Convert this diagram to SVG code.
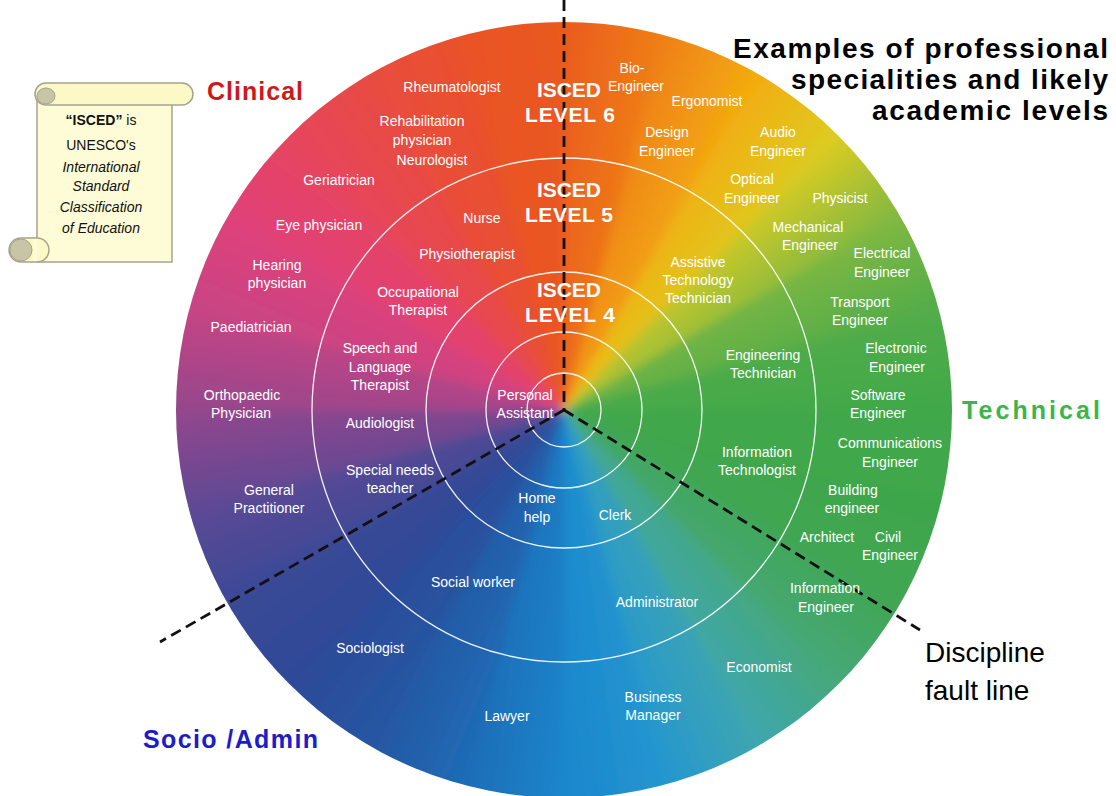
<svg xmlns="http://www.w3.org/2000/svg" width="1116" height="796" viewBox="0 0 1116 796">
<style>
.lbl{font-family:"Liberation Sans",Arial,sans-serif;font-size:14px;fill:#fff;text-anchor:middle}
.isc{font-family:"Liberation Sans",Arial,sans-serif;font-weight:bold;font-size:21px;fill:#fff}
.ring{fill:none;stroke:#fff;stroke-width:1.3;opacity:0.92}
.fault{fill:none;stroke:#111;stroke-width:2.8;stroke-dasharray:11 6}
.ttl{font-family:"Liberation Sans",Arial,sans-serif;font-weight:bold;font-size:28px;fill:#000}
.big{font-family:"Liberation Sans",Arial,sans-serif;font-weight:bold;font-size:25px}
.scr{font-family:"Liberation Sans",Arial,sans-serif;font-size:14px;fill:#111;text-anchor:middle}
</style>
<defs>
<clipPath id="disc"><circle cx="564" cy="410" r="388"/></clipPath>
<filter id="soft" filterUnits="userSpaceOnUse" x="100" y="-40" width="930" height="900"><feGaussianBlur stdDeviation="5"/></filter>
<path id="w" d="M564 410 L507.7 -6.2 L620.3 -6.2 Z"/>
<linearGradient id="g0" gradientUnits="userSpaceOnUse" x1="513.4" y1="0" x2="614.6" y2="0"><stop offset="0" stop-color="#ea5a1e"/><stop offset="1" stop-color="#ef8016"/></linearGradient>
<linearGradient id="g1" gradientUnits="userSpaceOnUse" x1="513.4" y1="0" x2="614.6" y2="0"><stop offset="0" stop-color="#ef8016"/><stop offset="1" stop-color="#f3ac10"/></linearGradient>
<linearGradient id="g2" gradientUnits="userSpaceOnUse" x1="513.4" y1="0" x2="614.6" y2="0"><stop offset="0" stop-color="#f3ac10"/><stop offset="1" stop-color="#dccc22"/></linearGradient>
<linearGradient id="g3" gradientUnits="userSpaceOnUse" x1="513.4" y1="0" x2="614.6" y2="0"><stop offset="0" stop-color="#dccc22"/><stop offset="1" stop-color="#80b842"/></linearGradient>
<linearGradient id="g4" gradientUnits="userSpaceOnUse" x1="513.4" y1="0" x2="614.6" y2="0"><stop offset="0" stop-color="#80b842"/><stop offset="1" stop-color="#52ac48"/></linearGradient>
<linearGradient id="g5" gradientUnits="userSpaceOnUse" x1="513.4" y1="0" x2="614.6" y2="0"><stop offset="0" stop-color="#52ac48"/><stop offset="1" stop-color="#40a84a"/></linearGradient>
<linearGradient id="g6" gradientUnits="userSpaceOnUse" x1="513.4" y1="0" x2="614.6" y2="0"><stop offset="0" stop-color="#40a84a"/><stop offset="1" stop-color="#3ea64c"/></linearGradient>
<linearGradient id="g7" gradientUnits="userSpaceOnUse" x1="513.4" y1="0" x2="614.6" y2="0"><stop offset="0" stop-color="#3ea64c"/><stop offset="1" stop-color="#40a652"/></linearGradient>
<linearGradient id="g8" gradientUnits="userSpaceOnUse" x1="513.4" y1="0" x2="614.6" y2="0"><stop offset="0" stop-color="#40a652"/><stop offset="1" stop-color="#46a87a"/></linearGradient>
<linearGradient id="g9" gradientUnits="userSpaceOnUse" x1="513.4" y1="0" x2="614.6" y2="0"><stop offset="0" stop-color="#46a87a"/><stop offset="1" stop-color="#3ea6b0"/></linearGradient>
<linearGradient id="g10" gradientUnits="userSpaceOnUse" x1="513.4" y1="0" x2="614.6" y2="0"><stop offset="0" stop-color="#3ea6b0"/><stop offset="1" stop-color="#2496d0"/></linearGradient>
<linearGradient id="g11" gradientUnits="userSpaceOnUse" x1="513.4" y1="0" x2="614.6" y2="0"><stop offset="0" stop-color="#2496d0"/><stop offset="1" stop-color="#1a86cc"/></linearGradient>
<linearGradient id="g12" gradientUnits="userSpaceOnUse" x1="513.4" y1="0" x2="614.6" y2="0"><stop offset="0" stop-color="#1a86cc"/><stop offset="1" stop-color="#1e6cb6"/></linearGradient>
<linearGradient id="g13" gradientUnits="userSpaceOnUse" x1="513.4" y1="0" x2="614.6" y2="0"><stop offset="0" stop-color="#1e6cb6"/><stop offset="1" stop-color="#2656a2"/></linearGradient>
<linearGradient id="g14" gradientUnits="userSpaceOnUse" x1="513.4" y1="0" x2="614.6" y2="0"><stop offset="0" stop-color="#2656a2"/><stop offset="1" stop-color="#2e4a98"/></linearGradient>
<linearGradient id="g15" gradientUnits="userSpaceOnUse" x1="513.4" y1="0" x2="614.6" y2="0"><stop offset="0" stop-color="#2e4a98"/><stop offset="1" stop-color="#3a4896"/></linearGradient>
<linearGradient id="g16" gradientUnits="userSpaceOnUse" x1="513.4" y1="0" x2="614.6" y2="0"><stop offset="0" stop-color="#3a4896"/><stop offset="1" stop-color="#5e4894"/></linearGradient>
<linearGradient id="g17" gradientUnits="userSpaceOnUse" x1="513.4" y1="0" x2="614.6" y2="0"><stop offset="0" stop-color="#5e4894"/><stop offset="1" stop-color="#94468c"/></linearGradient>
<linearGradient id="g18" gradientUnits="userSpaceOnUse" x1="513.4" y1="0" x2="614.6" y2="0"><stop offset="0" stop-color="#94468c"/><stop offset="1" stop-color="#c64484"/></linearGradient>
<linearGradient id="g19" gradientUnits="userSpaceOnUse" x1="513.4" y1="0" x2="614.6" y2="0"><stop offset="0" stop-color="#c64484"/><stop offset="1" stop-color="#e0427a"/></linearGradient>
<linearGradient id="g20" gradientUnits="userSpaceOnUse" x1="513.4" y1="0" x2="614.6" y2="0"><stop offset="0" stop-color="#e0427a"/><stop offset="1" stop-color="#e6445e"/></linearGradient>
<linearGradient id="g21" gradientUnits="userSpaceOnUse" x1="513.4" y1="0" x2="614.6" y2="0"><stop offset="0" stop-color="#e6445e"/><stop offset="1" stop-color="#e84c40"/></linearGradient>
<linearGradient id="g22" gradientUnits="userSpaceOnUse" x1="513.4" y1="0" x2="614.6" y2="0"><stop offset="0" stop-color="#e84c40"/><stop offset="1" stop-color="#e95228"/></linearGradient>
<linearGradient id="g23" gradientUnits="userSpaceOnUse" x1="513.4" y1="0" x2="614.6" y2="0"><stop offset="0" stop-color="#e95228"/><stop offset="1" stop-color="#ea5a1e"/></linearGradient>
</defs>
<rect width="1116" height="796" fill="#fff"/>
<g id="wheel" clip-path="url(#disc)">
<g filter="url(#soft)">
<use href="#w" transform="rotate(7.5 564 410)" fill="url(#g0)"/>
<use href="#w" transform="rotate(22.5 564 410)" fill="url(#g1)"/>
<use href="#w" transform="rotate(37.5 564 410)" fill="url(#g2)"/>
<use href="#w" transform="rotate(52.5 564 410)" fill="url(#g3)"/>
<use href="#w" transform="rotate(67.5 564 410)" fill="url(#g4)"/>
<use href="#w" transform="rotate(82.5 564 410)" fill="url(#g5)"/>
<use href="#w" transform="rotate(97.5 564 410)" fill="url(#g6)"/>
<use href="#w" transform="rotate(112.5 564 410)" fill="url(#g7)"/>
<use href="#w" transform="rotate(127.5 564 410)" fill="url(#g8)"/>
<use href="#w" transform="rotate(142.5 564 410)" fill="url(#g9)"/>
<use href="#w" transform="rotate(157.5 564 410)" fill="url(#g10)"/>
<use href="#w" transform="rotate(172.5 564 410)" fill="url(#g11)"/>
<use href="#w" transform="rotate(187.5 564 410)" fill="url(#g12)"/>
<use href="#w" transform="rotate(202.5 564 410)" fill="url(#g13)"/>
<use href="#w" transform="rotate(217.5 564 410)" fill="url(#g14)"/>
<use href="#w" transform="rotate(232.5 564 410)" fill="url(#g15)"/>
<use href="#w" transform="rotate(247.5 564 410)" fill="url(#g16)"/>
<use href="#w" transform="rotate(262.5 564 410)" fill="url(#g17)"/>
<use href="#w" transform="rotate(277.5 564 410)" fill="url(#g18)"/>
<use href="#w" transform="rotate(292.5 564 410)" fill="url(#g19)"/>
<use href="#w" transform="rotate(307.5 564 410)" fill="url(#g20)"/>
<use href="#w" transform="rotate(322.5 564 410)" fill="url(#g21)"/>
<use href="#w" transform="rotate(337.5 564 410)" fill="url(#g22)"/>
<use href="#w" transform="rotate(352.5 564 410)" fill="url(#g23)"/>
</g>
</g>
<g id="rings">
<circle class="ring" cx="564" cy="410" r="37"/>
<circle class="ring" cx="564" cy="410" r="78"/>
<circle class="ring" cx="564" cy="410" r="138"/>
<circle class="ring" cx="564" cy="410" r="252"/>
</g>
<g id="connectors">
<line class="fault" x1="564" y1="0" x2="564" y2="410"/>
<line class="fault" x1="564" y1="410" x2="160" y2="642"/>
<line class="fault" x1="564" y1="410" x2="920" y2="630"/>
</g>
<g id="scroll">
<rect x="37" y="95" width="135" height="167" fill="#fefcd6" stroke="#a4a48e" stroke-width="1.5"/>
<rect x="35" y="83" width="158" height="22" rx="11" fill="#fdf9c6" stroke="#a4a48e" stroke-width="1.5"/>
<ellipse cx="46" cy="96" rx="9" ry="8" fill="#c8c4a6" stroke="#a4a48e" stroke-width="1"/>
<rect x="9" y="238" width="40" height="24" rx="12" fill="#fdf9c6" stroke="#a4a48e" stroke-width="1.5"/>
<circle cx="21" cy="250" r="11" fill="#c8c4a6" stroke="#a4a48e" stroke-width="1"/>
<rect x="33" y="239" width="4" height="22" fill="#fefcd6"/>
<text class="scr" x="101" y="125"><tspan font-weight="bold">“ISCED”</tspan> is</text>
<text class="scr" x="101" y="150">UNESCO's</text>
<text class="scr" x="101" y="172" font-style="italic">International</text>
<text class="scr" x="101" y="191" font-style="italic">Standard</text>
<text class="scr" x="101" y="212" font-style="italic">Classification</text>
<text class="scr" x="101" y="233" font-style="italic">of Education</text>
</g>
<g id="title"><text class="ttl" x="733" y="58" textLength="375" lengthAdjust="spacing">Examples of professional</text><text class="ttl" x="791" y="89" textLength="317" lengthAdjust="spacing">specialities and likely</text><text class="ttl" x="872" y="120" textLength="236" lengthAdjust="spacing">academic levels</text></g>
<g id="clinical-label"><text class="big" x="207" y="100" fill="#cc1a1a" textLength="96" lengthAdjust="spacing">Clinical</text></g>
<g id="technical-label"><text class="big" x="962" y="419" fill="#3db54a" font-size="26" textLength="138" lengthAdjust="spacing">Technical</text></g>
<g id="socio-label"><text class="big" x="143" y="748" fill="#1c1cc8" textLength="175" lengthAdjust="spacing">Socio /Admin</text></g>
<g id="fault-label"><text x="925" y="662" font-family="Liberation Sans, Arial, sans-serif" font-size="28" fill="#000">Discipline</text><text x="925" y="700" font-family="Liberation Sans, Arial, sans-serif" font-size="28" fill="#000">fault line</text></g>
<g id="isced6"><text class="isc" x="537" y="97" textLength="64">ISCED</text><text class="isc" x="525" y="122" textLength="90" lengthAdjust="spacing">LEVEL 6</text></g>
<g id="isced5"><text class="isc" x="537" y="197" textLength="64">ISCED</text><text class="isc" x="525" y="222" textLength="88" lengthAdjust="spacing">LEVEL 5</text></g>
<g id="isced4"><text class="isc" x="537" y="297" textLength="64">ISCED</text><text class="isc" x="525" y="322" textLength="90" lengthAdjust="spacing">LEVEL 4</text></g>
<g id="rheumatologist"><text class="lbl" x="452" y="92">Rheumatologist</text></g>
<g id="rehab"><text class="lbl" x="422" y="126">Rehabilitation</text><text class="lbl" x="422" y="145">physician</text></g>
<g id="neurologist"><text class="lbl" x="432" y="165">Neurologist</text></g>
<g id="geriatrician"><text class="lbl" x="339" y="185">Geriatrician</text></g>
<g id="eye"><text class="lbl" x="319" y="230">Eye physician</text></g>
<g id="nurse"><text class="lbl" x="482" y="223">Nurse</text></g>
<g id="physio"><text class="lbl" x="467" y="259">Physiotherapist</text></g>
<g id="hearing"><text class="lbl" x="277" y="270">Hearing</text><text class="lbl" x="277" y="288">physician</text></g>
<g id="paediatrician"><text class="lbl" x="251" y="332">Paediatrician</text></g>
<g id="ortho"><text class="lbl" x="242" y="400">Orthopaedic</text><text class="lbl" x="241" y="418">Physician</text></g>
<g id="gp"><text class="lbl" x="269" y="495">General</text><text class="lbl" x="269" y="513">Practitioner</text></g>
<g id="occ"><text class="lbl" x="418" y="297">Occupational</text><text class="lbl" x="418" y="315">Therapist</text></g>
<g id="speech"><text class="lbl" x="380" y="353">Speech and</text><text class="lbl" x="380" y="372">Language</text><text class="lbl" x="380" y="390">Therapist</text></g>
<g id="audiologist"><text class="lbl" x="380" y="428">Audiologist</text></g>
<g id="special"><text class="lbl" x="390" y="475">Special needs</text><text class="lbl" x="390" y="493">teacher</text></g>
<g id="pa"><text class="lbl" x="525" y="400">Personal</text><text class="lbl" x="525" y="418">Assistant</text></g>
<g id="home"><text class="lbl" x="537" y="503">Home</text><text class="lbl" x="537" y="522">help</text></g>
<g id="clerk"><text class="lbl" x="615" y="520">Clerk</text></g>
<g id="social"><text class="lbl" x="473" y="587">Social worker</text></g>
<g id="sociologist"><text class="lbl" x="370" y="653">Sociologist</text></g>
<g id="lawyer"><text class="lbl" x="507" y="721">Lawyer</text></g>
<g id="admin"><text class="lbl" x="657" y="607">Administrator</text></g>
<g id="business"><text class="lbl" x="653" y="702">Business</text><text class="lbl" x="653" y="720">Manager</text></g>
<g id="economist"><text class="lbl" x="759" y="672">Economist</text></g>
<g id="bio"><text class="lbl" x="632" y="73">Bio-</text><text class="lbl" x="636" y="91">Engineer</text></g>
<g id="ergonomist"><text class="lbl" x="707" y="106">Ergonomist</text></g>
<g id="design"><text class="lbl" x="667" y="137">Design</text><text class="lbl" x="667" y="156">Engineer</text></g>
<g id="audio"><text class="lbl" x="778" y="137">Audio</text><text class="lbl" x="778" y="156">Engineer</text></g>
<g id="optical"><text class="lbl" x="752" y="184">Optical</text><text class="lbl" x="752" y="203">Engineer</text></g>
<g id="physicist"><text class="lbl" x="840" y="203">Physicist</text></g>
<g id="mech"><text class="lbl" x="808" y="232">Mechanical</text><text class="lbl" x="810" y="250">Engineer</text></g>
<g id="elec"><text class="lbl" x="882" y="258">Electrical</text><text class="lbl" x="882" y="277">Engineer</text></g>
<g id="assistive"><text class="lbl" x="698" y="267">Assistive</text><text class="lbl" x="698" y="285">Technology</text><text class="lbl" x="698" y="303">Technician</text></g>
<g id="transport"><text class="lbl" x="860" y="307">Transport</text><text class="lbl" x="860" y="325">Engineer</text></g>
<g id="electronic"><text class="lbl" x="896" y="353">Electronic</text><text class="lbl" x="897" y="372">Engineer</text></g>
<g id="engtech"><text class="lbl" x="763" y="360">Engineering</text><text class="lbl" x="763" y="378">Technician</text></g>
<g id="software"><text class="lbl" x="878" y="400">Software</text><text class="lbl" x="878" y="418">Engineer</text></g>
<g id="comms"><text class="lbl" x="890" y="448">Communications</text><text class="lbl" x="890" y="467">Engineer</text></g>
<g id="infotech"><text class="lbl" x="757" y="457">Information</text><text class="lbl" x="757" y="475">Technologist</text></g>
<g id="building"><text class="lbl" x="853" y="495">Building</text><text class="lbl" x="852" y="513">engineer</text></g>
<g id="architect"><text class="lbl" x="827" y="542">Architect</text></g>
<g id="civil"><text class="lbl" x="888" y="542">Civil</text><text class="lbl" x="890" y="560">Engineer</text></g>
<g id="infoeng"><text class="lbl" x="825" y="593">Information</text><text class="lbl" x="826" y="612">Engineer</text></g>
</svg>
